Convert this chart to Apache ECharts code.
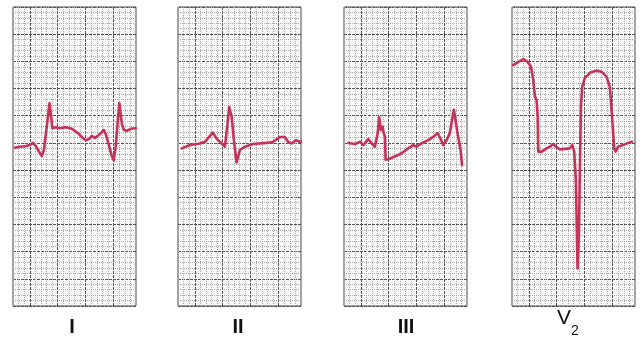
<!DOCTYPE html>
<html><head><meta charset="utf-8">
<script src="https://cdn.jsdelivr.net/npm/echarts@6/dist/echarts.min.js"></script>
<style>html,body{margin:0;padding:0;background:#fff}#c{width:640px;height:337px}</style>
</head><body><div id="c"></div>
<script>
// ECG leads: time in ms (0..880 per strip), voltage in mV
const leadNames = ['I', 'II', 'III', 'V', '2'];

const timeI = [14,50,86,121,143,164,193,207,221,243,261,271,282,293,307,336,379,421,464,500,521,543,564,586,607,629,650,664,686,707,721,736,750,761,771,779,793,814,843,879];
const voltI = [-0.09,-0.07,-0.06,-0.04,0.00,-0.06,-0.19,-0.24,-0.13,0.33,0.73,0.51,0.27,0.24,0.29,0.27,0.29,0.26,0.18,0.09,0.05,0.07,0.13,0.09,0.13,0.18,0.24,0.16,-0.04,-0.24,-0.32,-0.04,0.42,0.73,0.51,0.35,0.24,0.22,0.26,0.27];

const timeII = [26,86,157,193,248,276,312,336,352,366,384,400,419,443,479,538,634,681,729,764,788,812,843,871,880];
const voltII = [-0.10,-0.04,-0.01,0.02,0.19,0.08,-0.01,-0.07,0.30,0.66,0.48,0.05,-0.36,-0.13,-0.07,-0.02,0.00,0.02,0.11,0.11,0.02,-0.01,0.05,0.02,0.02];

const timeIII = [31,79,114,138,174,198,221,241,252,264,276,284,293,298,316,364,412,459,495,519,555,602,638,669,693,709,734,757,769,786,798,812,821,834,845];
const voltIII = [0.00,-0.02,0.02,-0.04,0.07,-0.01,-0.07,0.18,0.47,0.24,0.30,0.18,0.11,-0.31,-0.30,-0.25,-0.19,-0.10,-0.04,-0.07,-0.01,0.05,0.11,0.18,0.07,-0.04,0.05,0.18,0.21,0.61,0.42,0.18,0.21,-0.13,-0.41];

const timeV2 = [9,45,81,112,136,152,164,176,184,188,212,248,271,295,314,343,379,414,431,445,457,469,479,486,493,502,521,557,605,641,676,700,716,731,741,759,795,831,859];
const voltV2 = [1.43,1.49,1.54,1.49,1.40,1.16,0.85,0.79,0.48,-0.16,-0.16,-0.10,-0.07,-0.02,-0.07,-0.12,-0.11,-0.10,-0.04,-0.16,-0.68,-2.31,-1.66,-0.44,0.67,1.03,1.19,1.29,1.33,1.31,1.22,1.03,0.48,-0.10,-0.16,-0.07,-0.04,0.00,0.02];

const traces = [[timeI, voltI], [timeII, voltII], [timeIII, voltIII], [timeV2, voltV2]];
const panelLeft = [13, 178, 344, 512];
const gridSlots = Array.from({length: 23}, (_, k) => String(k));

const chart = echarts.init(document.getElementById('c'), null, {renderer: 'canvas'});

const hidden = {axisLine: {show: false}, axisTick: {show: false}, axisLabel: {show: false}};
const minorStyle = {color: '#ababab', width: 1, type: [1, 1]};
const majorStyle = {color: '#555555', width: 1, type: [3, 1]};

const grid = [], xAxis = [], yAxis = [], series = [];
traces.forEach((tr, i) => {
  grid.push({left: panelLeft[i], top: 7, width: 123, height: 299, show: true,
    backgroundColor: '#f7f7f7', borderColor: '#444', borderWidth: 1, containLabel: false});
  xAxis.push(Object.assign({type: 'value', gridIndex: i, min: 0, max: 880, interval: 40,
    splitLine: {show: true, lineStyle: minorStyle}}, hidden));
  xAxis.push(Object.assign({type: 'category', gridIndex: i, data: gridSlots, boundaryGap: false,
    splitLine: {show: true, interval: (idx) => idx % 5 === 3, lineStyle: majorStyle}}, hidden));
  yAxis.push(Object.assign({type: 'value', gridIndex: i, min: -3.0, max: 2.5, interval: 0.1,
    splitLine: {show: true, lineStyle: minorStyle}}, hidden));
  yAxis.push(Object.assign({type: 'value', gridIndex: i, min: -3.0, max: 2.5, interval: 0.5,
    splitLine: {show: true, lineStyle: majorStyle}}, hidden));
  series.push({type: 'line', xAxisIndex: 2 * i, yAxisIndex: 2 * i, showSymbol: false, symbol: 'none',
    smooth: false, clip: true, z: 10,
    lineStyle: {color: '#c4345a', width: 2.6, join: 'round', cap: 'round'},
    data: tr[0].map((t, k) => [t, tr[1][k]])});
});

const labelFont = '"Liberation Sans", Arial, sans-serif';
const graphic = [
  {type: 'text', x: 72, y: 327, style: {text: leadNames[0], font: 'bold 20px ' + labelFont, fill: '#111', align: 'center', verticalAlign: 'middle', textAlign: 'center', textVerticalAlign: 'middle'}},
  {type: 'text', x: 238, y: 327, style: {text: leadNames[1], font: 'bold 20px ' + labelFont, fill: '#111', align: 'center', verticalAlign: 'middle', textAlign: 'center', textVerticalAlign: 'middle'}},
  {type: 'text', x: 406, y: 327, style: {text: leadNames[2], font: 'bold 20px ' + labelFont, fill: '#111', align: 'center', verticalAlign: 'middle', textAlign: 'center', textVerticalAlign: 'middle'}},
  {type: 'text', x: 564, y: 318, style: {text: leadNames[3], font: '21px ' + labelFont, fill: '#111', align: 'center', verticalAlign: 'middle', textAlign: 'center', textVerticalAlign: 'middle'}},
  {type: 'text', x: 575, y: 331, style: {text: leadNames[4], font: '14px ' + labelFont, fill: '#111', align: 'center', verticalAlign: 'middle', textAlign: 'center', textVerticalAlign: 'middle'}}
];

chart.setOption({animation: false, backgroundColor: '#ffffff', grid, xAxis, yAxis, series, graphic});
</script>
</body></html>
